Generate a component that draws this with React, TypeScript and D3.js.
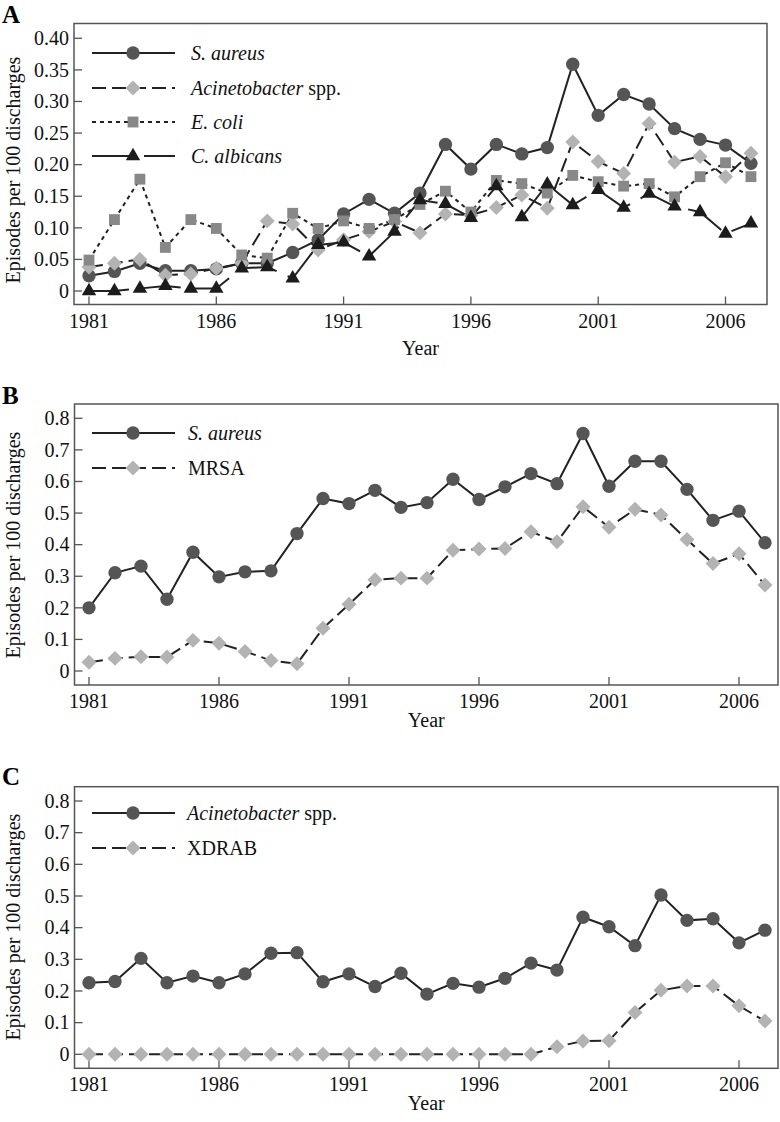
import React from "react";
import * as d3 from "d3";

const years = [
  1981, 1982, 1983, 1984, 1985, 1986, 1987, 1988, 1989, 1990, 1991, 1992, 1993, 1994,
  1995, 1996, 1997, 1998, 1999, 2000, 2001, 2002, 2003, 2004, 2005, 2006, 2007,
];
const xTickYears = [1981, 1986, 1991, 1996, 2001, 2006];

const yTicksA = [0, 0.05, 0.1, 0.15, 0.2, 0.25, 0.3, 0.35, 0.4];
const yTicksBC = [0, 0.1, 0.2, 0.3, 0.4, 0.5, 0.6, 0.7, 0.8];

// panel A
const aSAureus = [
  0.024, 0.031, 0.044, 0.032, 0.032, 0.035, 0.044, 0.044, 0.061, 0.081, 0.122, 0.145, 0.123, 0.155,
  0.232, 0.193, 0.232, 0.217, 0.227, 0.359, 0.278, 0.311, 0.296, 0.257, 0.24, 0.231, 0.202,
];
const aAcineto = [
  0.038, 0.044, 0.05, 0.025, 0.027, 0.036, 0.044, 0.111, 0.106, 0.065, 0.081, 0.094, 0.11, 0.092,
  0.122, 0.12, 0.132, 0.152, 0.131, 0.236, 0.205, 0.186, 0.265, 0.204, 0.213, 0.181, 0.218,
];
const aEColi = [
  0.049, 0.113, 0.177, 0.069, 0.113, 0.099, 0.057, 0.052, 0.123, 0.099, 0.111, 0.099, 0.113, 0.137,
  0.158, 0.125, 0.175, 0.17, 0.155, 0.183, 0.173, 0.166, 0.17, 0.149, 0.181, 0.203, 0.181,
];
const aCAlbicans = [
  0, 0, 0.004, 0.008, 0.004, 0.004, 0.036, 0.038, 0.02, 0.073, 0.077, 0.055, 0.094, 0.144,
  0.138, 0.116, 0.166, 0.117, 0.169, 0.136, 0.16, 0.132, 0.154, 0.134, 0.125, 0.091, 0.107,
];

// panel B
const bSAureus = [
  0.2, 0.311, 0.332, 0.227, 0.376, 0.298, 0.314, 0.317, 0.435, 0.546, 0.53, 0.572, 0.518, 0.533,
  0.607, 0.543, 0.583, 0.625, 0.593, 0.752, 0.585, 0.664, 0.664, 0.575, 0.477, 0.506, 0.406,
];
const bMRSA = [
  0.028, 0.04, 0.045, 0.044, 0.097, 0.088, 0.062, 0.033, 0.023, 0.135, 0.211, 0.289, 0.294, 0.294,
  0.382, 0.386, 0.388, 0.441, 0.409, 0.52, 0.455, 0.512, 0.494, 0.416, 0.34, 0.371, 0.272,
];

// panel C
const cAcineto = [
  0.226, 0.23, 0.303, 0.226, 0.247, 0.226, 0.254, 0.319, 0.321, 0.229, 0.254, 0.214, 0.256, 0.19,
  0.224, 0.212, 0.24, 0.288, 0.266, 0.433, 0.403, 0.343, 0.503, 0.423, 0.428, 0.352, 0.392,
];
const cXDRAB = [
  0, 0, 0, 0, 0, 0, 0, 0, 0, 0, 0, 0, 0, 0,
  0, 0, 0, 0, 0.024, 0.042, 0.043, 0.132, 0.202, 0.216, 0.216, 0.153, 0.105,
];

type Marker = "circle" | "diamond" | "square" | "triangle";
type Series = {
  italic: string;
  plain: string;
  values: number[];
  marker: Marker;
  dash: string;
};

const FONT = "'Liberation Serif', 'Times New Roman', serif";
const LINE = "#222";

const markerFill: Record<Marker, string> = {
  circle: "#555",
  diamond: "#b3b3b3",
  square: "#888",
  triangle: "#1c1c1c",
};

const symbolPath = (m: Marker) => {
  if (m === "circle") return d3.symbol(d3.symbolCircle, 140)()!;
  if (m === "square") return d3.symbol(d3.symbolSquare, 118)()!;
  if (m === "triangle") return d3.symbol(d3.symbolTriangle, 90)()!;
  return d3.symbol(d3.symbolSquare, 112)()!;
};

const MarkerGlyph = ({ m, x, y }: { m: Marker; x: number; y: number }) => (
  <path
    d={symbolPath(m)}
    transform={`translate(${x},${y})${m === "diamond" ? " rotate(45)" : ""}`}
    fill={markerFill[m]}
  />
);

type PanelProps = {
  label: string;
  labelY: number;
  frame: { left: number; right: number; top: number; bottom: number };
  x2006: number;
  yZero: number;
  yTopTick: number;
  yTicks: number[];
  fmt: (v: number) => string;
  series: Series[];
  legendY: number[];
  legendTextX: number;
  yearY: number;
  yLabelY: number;
};

function Panel(p: PanelProps) {
  const { frame } = p;
  const x = d3.scaleLinear().domain([1981, 2006]).range([89, p.x2006]);
  const y = d3
    .scaleLinear()
    .domain([0, p.yTicks[p.yTicks.length - 1]])
    .range([p.yZero, p.yTopTick]);
  const line = d3
    .line<number>()
    .x((_, i) => x(years[i]))
    .y((d) => y(d));

  return (
    <g>
      <text x={2} y={p.labelY} fontFamily={FONT} fontWeight="bold" fontSize={25}>
        {p.label}
      </text>
      <rect
        x={frame.left}
        y={frame.top}
        width={frame.right - frame.left}
        height={frame.bottom - frame.top}
        fill="none"
        stroke="#555"
        strokeWidth={1.5}
      />
      {p.yTicks.map((t) => (
        <g key={t}>
          <line x1={frame.left} x2={frame.left + 8} y1={y(t)} y2={y(t)} stroke="#555" strokeWidth={1.3} />
          <text
            x={frame.left - 5}
            y={y(t)}
            dy="0.34em"
            textAnchor="end"
            fontFamily={FONT}
            fontSize={20}
            fill="#111"
          >
            {p.fmt(t)}
          </text>
        </g>
      ))}
      {xTickYears.map((t) => (
        <g key={t}>
          <line x1={x(t)} x2={x(t)} y1={frame.bottom} y2={frame.bottom - 8} stroke="#555" strokeWidth={1.3} />
          <text
            x={x(t)}
            y={frame.bottom + 23}
            textAnchor="middle"
            fontFamily={FONT}
            fontSize={20}
            fill="#111"
          >
            {t}
          </text>
        </g>
      ))}
      <text
        x={(frame.left + frame.right) / 2}
        y={p.yearY}
        textAnchor="middle"
        fontFamily={FONT}
        fontSize={20}
        fill="#111"
      >
        Year
      </text>
      <text
        transform={`translate(20,${p.yLabelY}) rotate(-90)`}
        textAnchor="middle"
        fontFamily={FONT}
        fontSize={20}
        fill="#111"
      >
        Episodes per 100 discharges
      </text>

      {p.series.map((s, i) => (
        <path
          key={"l" + i}
          d={line(s.values)!}
          fill="none"
          stroke={LINE}
          strokeWidth={2}
          strokeDasharray={s.dash}
        />
      ))}
      {p.series.map((s, i) => (
        <g key={"m" + i}>
          {s.values.map((v, j) => (
            <MarkerGlyph key={j} m={s.marker} x={x(years[j])} y={y(v)} />
          ))}
        </g>
      ))}

      {p.series.map((s, i) => (
        <g key={"lg" + i}>
          <line
            x1={92}
            x2={175}
            y1={p.legendY[i]}
            y2={p.legendY[i]}
            stroke={LINE}
            strokeWidth={2}
            strokeDasharray={s.dash}
          />
          <MarkerGlyph m={s.marker} x={133} y={p.legendY[i]} />
          <text x={p.legendTextX} y={p.legendY[i]} dy="0.34em" fontFamily={FONT} fontSize={20} fill="#111">
            <tspan fontStyle="italic">{s.italic}</tspan>
            {s.plain}
          </text>
        </g>
      ))}
    </g>
  );
}

const fmtA = (v: number) => (v === 0 ? "0" : d3.format(".2f")(v));
const fmtBC = (v: number) => (v === 0 ? "0" : d3.format(".1f")(v));

export default function App() {
  return (
    <svg
      width={780}
      height={1122}
      style={{ position: "absolute", left: 0, top: 0, background: "#fff" }}
    >
      <Panel
        label="A"
        labelY={23}
        frame={{ left: 74, right: 767, top: 23.5, bottom: 304.5 }}
        x2006={725.5}
        yZero={291}
        yTopTick={38.3}
        yTicks={yTicksA}
        fmt={fmtA}
        series={[
          { italic: "S. aureus", plain: "", values: aSAureus, marker: "circle", dash: "none" },
          { italic: "Acinetobacter", plain: " spp.", values: aAcineto, marker: "diamond", dash: "14,6" },
          { italic: "E. coli", plain: "", values: aEColi, marker: "square", dash: "4,4" },
          { italic: "C. albicans", plain: "", values: aCAlbicans, marker: "triangle", dash: "40,12" },
        ]}
        legendY={[53, 88, 122, 156]}
        legendTextX={191}
        yearY={355}
        yLabelY={170}
      />
      <Panel
        label="B"
        labelY={404}
        frame={{ left: 74.5, right: 778, top: 404, bottom: 685 }}
        x2006={739}
        yZero={671}
        yTopTick={418.3}
        yTicks={yTicksBC}
        fmt={fmtBC}
        series={[
          { italic: "S. aureus", plain: "", values: bSAureus, marker: "circle", dash: "none" },
          { italic: "", plain: "MRSA", values: bMRSA, marker: "diamond", dash: "14,6" },
        ]}
        legendY={[433, 468]}
        legendTextX={188}
        yearY={727}
        yLabelY={545}
      />
      <Panel
        label="C"
        labelY={785}
        frame={{ left: 74.5, right: 778, top: 786.7, bottom: 1068.3 }}
        x2006={739}
        yZero={1054.3}
        yTopTick={801}
        yTicks={yTicksBC}
        fmt={fmtBC}
        series={[
          { italic: "Acinetobacter", plain: " spp.", values: cAcineto, marker: "circle", dash: "none" },
          { italic: "", plain: "XDRAB", values: cXDRAB, marker: "diamond", dash: "14,6" },
        ]}
        legendY={[813, 848]}
        legendTextX={187}
        yearY={1110}
        yLabelY={927}
      />
    </svg>
  );
}
